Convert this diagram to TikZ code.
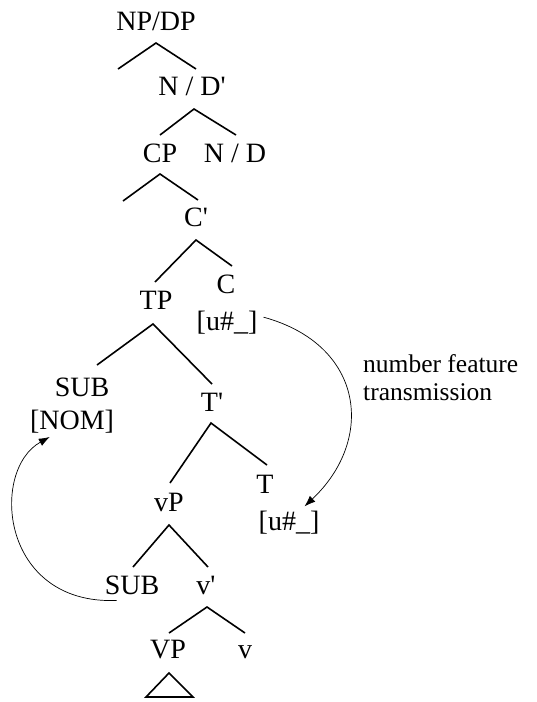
\documentclass[tikz,border=0pt]{standalone}
\usepackage{fontspec}
\setmainfont{Liberation Serif}
\usetikzlibrary{arrows.meta}
\begin{document}
\begin{tikzpicture}[x=1pt,y=-1pt,
  lab/.style={font=\fontsize{28}{32}\selectfont, inner sep=0pt, anchor=base},
  br/.style={line width=1.6pt, line join=miter},
  arr/.style={line width=0.7pt, -{Latex[length=11pt,width=8pt]}}]
\useasboundingbox (0,0) rectangle (536,702);
% labels
\node[lab] (np)   at (156,30)  {NP/DP};
\node[lab] (nbar) at (192,95)  {N / D\textquotesingle};
\node[lab] (cp)   at (160,162) {CP};
\node[lab] (nd)   at (235,162) {N / D};
\node[lab] (cbar) at (196,226) {C\textquotesingle};
\node[lab] (c)    at (226,293) {C};
\node[lab] (tp)   at (156,309) {TP};
\node[lab] (cf)   at (227,330) {[u\#\_]};
\node[lab] (sub)  at (82,396)  {SUB};
\node[lab] (nom)  at (72,429)  {[NOM]};
\node[lab] (tbar) at (212,411) {T\textquotesingle};
\node[lab] (t)    at (265,493) {T};
\node[lab] (tf)   at (289,530) {[u\#\_]};
\node[lab] (lvp)  at (169,511) {vP};
\node[lab] (sub2) at (132,594) {SUB};
\node[lab] (vbar) at (206,594) {v\textquotesingle};
\node[lab] (bvp)  at (168,658) {VP};
\node[lab] (v)    at (245,658) {v};
\node[font=\fontsize{25.5}{28}\selectfont, align=left, anchor=base west, inner sep=0pt] (note) at (363,400) {number feature\\transmission};
% branch coordinates
\coordinate (np-a) at (156,43);  \coordinate (np-l) at (118,69);  \coordinate (np-r) at (196,69);
\coordinate (nb-a) at (194,109); \coordinate (nb-l) at (160,135); \coordinate (nb-r) at (236,135);
\coordinate (cp-a) at (160,174); \coordinate (cp-l) at (123,201); \coordinate (cp-r) at (198,200);
\coordinate (cb-a) at (196,240); \coordinate (cb-l) at (155,282); \coordinate (cb-r) at (232,266);
\coordinate (tp-a) at (153,324); \coordinate (tp-l) at (97,365);  \coordinate (tp-r) at (212,384);
\coordinate (tb-a) at (211,423); \coordinate (tb-l) at (170,483); \coordinate (tb-r) at (267,465);
\coordinate (vp-a) at (169,525); \coordinate (vp-l) at (133,567); \coordinate (vp-r) at (208,567);
\coordinate (vb-a) at (207,607); \coordinate (vb-l) at (169,633); \coordinate (vb-r) at (245,633);
\coordinate (tri-a) at (169,673); \coordinate (tri-l) at (146,697); \coordinate (tri-r) at (193,697);
\draw[br] (np-l) -- (np-a) -- (np-r);
\draw[br] (nb-l) -- (nb-a) -- (nb-r);
\draw[br] (cp-l) -- (cp-a) -- (cp-r);
\draw[br] (cb-l) -- (cb-a) -- (cb-r);
\draw[br] (tp-l) -- (tp-a) -- (tp-r);
\draw[br] (tb-l) -- (tb-a) -- (tb-r);
\draw[br] (vp-l) -- (vp-a) -- (vp-r);
\draw[br] (vb-l) -- (vb-a) -- (vb-r);
\draw[br] (tri-a) -- (tri-l) -- (tri-r) -- cycle;
% arrows
\draw[arr] (sub2.south west) ++(12,6) .. controls (0,605) and (-10,470) .. ([xshift=20pt,yshift=-4pt]nom.south west);
\draw[arr] (cf.east) ++(6,-5) .. controls (365,345) and (375,440) .. ([xshift=-15pt,yshift=4pt]tf.north east);
\end{tikzpicture}
\end{document}
